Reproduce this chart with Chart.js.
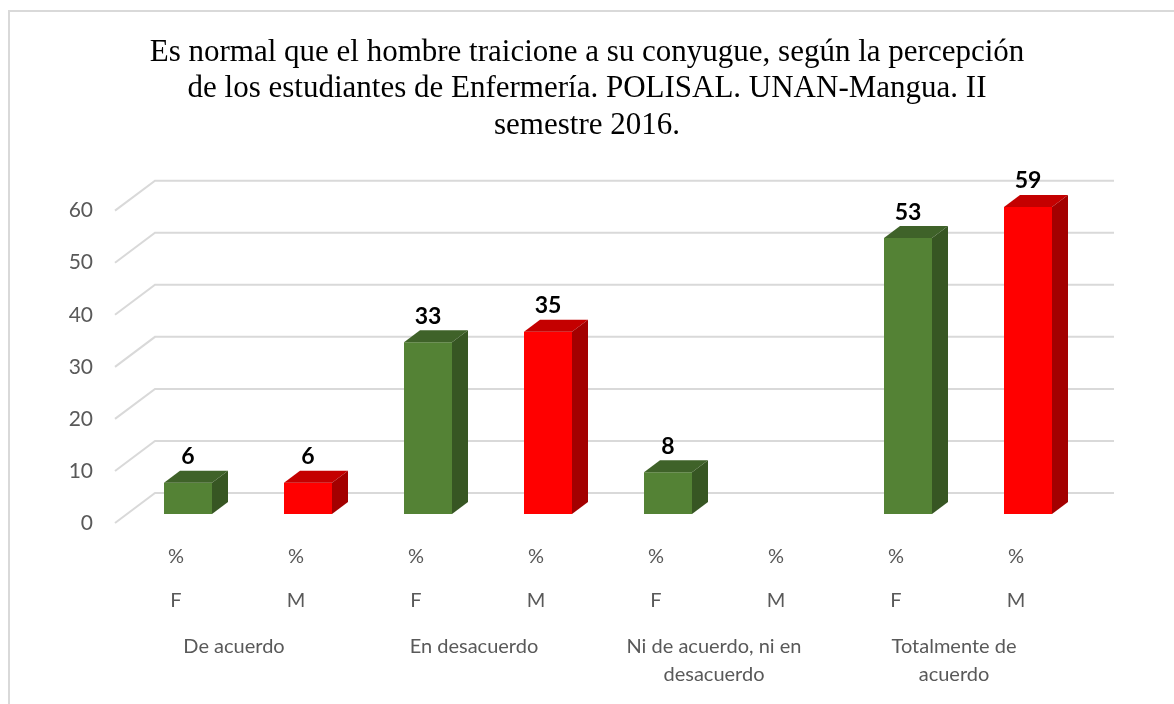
<!DOCTYPE html>
<html>
<head>
<meta charset="utf-8">
<script src="https://cdn.jsdelivr.net/npm/chart.js@4"></script>
<style>
  html, body { margin: 0; padding: 0; background: #fff; }
  #wrap { width: 1174px; height: 704px; }
</style>
</head>
<body>
<div id="wrap"><canvas id="chart" width="1174" height="704"></canvas></div>
<script>
// Chart data
const titleLines = [
    'Es normal que el hombre traicione a su conyugue, según la percepción',
    'de los estudiantes de Enfermería. POLISAL. UNAN-Mangua. II',
    'semestre 2016.'
];
const groups = [['De acuerdo'], ['En desacuerdo'], ['Ni de acuerdo, ni en', 'desacuerdo'], ['Totalmente de', 'acuerdo']];
const sexes = ['F', 'M', 'F', 'M', 'F', 'M', 'F', 'M'];
const values = [6, 6, 33, 35, 8, null, 53, 59];

// Colours per sex: front, top, side
const palette = {
    F: { front: '#548235', top: '#3F6229', side: '#375623' },
    M: { front: '#FF0000', top: '#C40000', side: '#A30000' }
};

const axisColor = '#595959';
const gridColor = '#D9D9D9';

// fake 3D: bar faces, back wall grid, value labels
const threeD = {
    id: 'threeD',
    beforeDraw(chart) {
        const ctx = chart.ctx;
        ctx.save();
        ctx.fillStyle = '#fff';
        ctx.fillRect(0, 0, chart.width, chart.height);
        ctx.strokeStyle = gridColor;
        ctx.lineWidth = 2;
        ctx.beginPath();
        ctx.moveTo(9, chart.height);
        ctx.lineTo(9, 11);
        ctx.lineTo(chart.width, 11);
        ctx.stroke();
        ctx.restore();
    },
    beforeDatasetsDraw(chart) {
        const ctx = chart.ctx;
        const y = chart.scales.y;
        const area = chart.chartArea;
        ctx.save();
        ctx.strokeStyle = gridColor;
        ctx.lineWidth = 2;
        y.ticks.forEach(t => {
            const py = y.getPixelForValue(t.value);
            ctx.beginPath();
            ctx.moveTo(area.left - 13, py + 9);
            ctx.lineTo(area.left + 27, py - 21);
            ctx.lineTo(area.right + 26, py - 21);
            ctx.stroke();
        });
        ctx.restore();
    },
    afterDatasetsDraw(chart) {
        const ctx = chart.ctx;
        const meta = chart.getDatasetMeta(0);
        const dx = 16, dy = -12;
        ctx.save();
        meta.data.forEach((bar, i) => {
            if (values[i] === null) return;
            const c = palette[sexes[i]];
            const p = bar.getProps(['x', 'y', 'base', 'width'], true);
            const l = p.x - p.width / 2, r = p.x + p.width / 2;
            // top face
            ctx.fillStyle = c.top;
            ctx.beginPath();
            ctx.moveTo(l, p.y);
            ctx.lineTo(l + dx, p.y + dy);
            ctx.lineTo(r + dx, p.y + dy);
            ctx.lineTo(r, p.y);
            ctx.closePath();
            ctx.fill();
            // side face
            ctx.fillStyle = c.side;
            ctx.beginPath();
            ctx.moveTo(r, p.y);
            ctx.lineTo(r + dx, p.y + dy);
            ctx.lineTo(r + dx, p.base + dy);
            ctx.lineTo(r, p.base);
            ctx.closePath();
            ctx.fill();
            // value label
            ctx.fillStyle = '#000';
            ctx.font = 'bold 23px Lato';
            ctx.textAlign = 'center';
            ctx.textBaseline = 'middle';
            ctx.fillText(String(values[i]), p.x, p.y - 26);
        });
        ctx.restore();
    }
};

new Chart(document.getElementById('chart'), {
    type: 'bar',
    data: {
        // blank lines space out the "%" and "F"/"M" rows
        labels: sexes.map(s => ['', '%', '', s]),
        datasets: [{
            label: '%',
            data: values,
            backgroundColor: sexes.map(s => palette[s].front),
            borderWidth: 0,
            barPercentage: 0.4,
            categoryPercentage: 1
        }]
    },
    options: {
        responsive: false,
        devicePixelRatio: 1,
        animation: false,
        layout: { padding: { left: 0, right: 0, top: 10, bottom: 4 } },
        plugins: {
            legend: { display: false },
            tooltip: { enabled: false },
            title: {
                display: true,
                text: titleLines,
                color: '#000',
                font: { family: 'Liberation Serif', size: 31, weight: 'normal', lineHeight: 1.19 },
                padding: { top: 24, bottom: 57 }
            }
        },
        scales: {
            x: {
                grid: { display: false, drawTicks: false },
                border: { display: false },
                ticks: {
                    color: axisColor,
                    font: { family: 'Lato', size: 20, lineHeight: 1.1 },
                    padding: 10,
                    labelOffset: -12,
                    maxRotation: 0,
                    autoSkip: false
                }
            },
            x2: {
                type: 'category',
                labels: groups,
                position: 'bottom',
                offset: true,
                grid: { display: false, drawTicks: false },
                border: { display: false },
                ticks: {
                    color: axisColor,
                    font: { family: 'Lato', size: 20, lineHeight: 1.4 },
                    padding: 11,
                    labelOffset: -14,
                    maxRotation: 0,
                    autoSkip: false
                }
            },
            y: {
                min: 0,
                max: 60,
                afterFit(scale) { scale.width = 128; },
                grid: { display: false, drawTicks: false },
                border: { display: false },
                ticks: {
                    stepSize: 10,
                    color: axisColor,
                    font: { family: 'Lato', size: 21 },
                    padding: 35,
                    labelOffset: 9
                }
            },
            // empty right-hand spacer so the plot ends where the reference does
            yRight: {
                position: 'right',
                afterFit(scale) { scale.width = 86; },
                grid: { display: false, drawTicks: false },
                border: { display: false },
                ticks: { display: false }
            }
        }
    },
    plugins: [threeD]
});
</script>
</body>
</html>
